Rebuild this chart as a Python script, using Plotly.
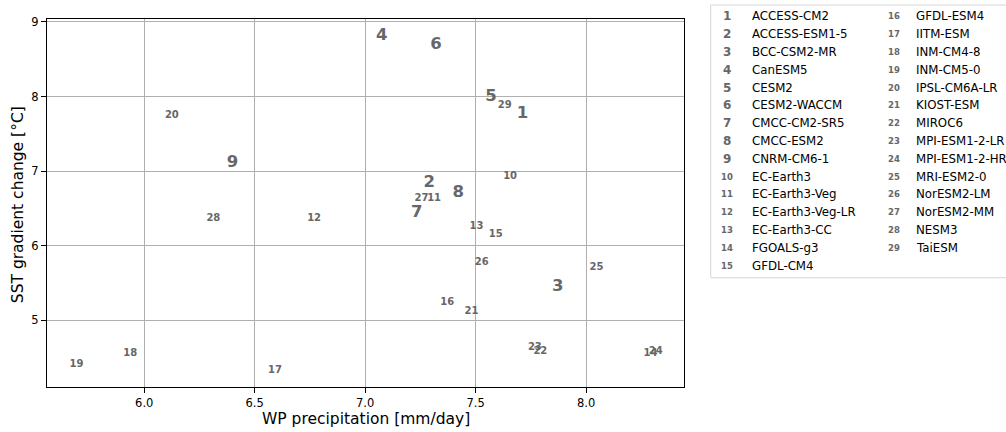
import plotly.graph_objects as go

# CMIP6 models: WP precipitation vs. SST gradient change
model_ids = list(range(1, 30))
model_names = [
    "ACCESS-CM2", "ACCESS-ESM1-5", "BCC-CSM2-MR", "CanESM5", "CESM2",
    "CESM2-WACCM", "CMCC-CM2-SR5", "CMCC-ESM2", "CNRM-CM6-1", "EC-Earth3",
    "EC-Earth3-Veg", "EC-Earth3-Veg-LR", "EC-Earth3-CC", "FGOALS-g3", "GFDL-CM4",
    "GFDL-ESM4", "IITM-ESM", "INM-CM4-8", "INM-CM5-0", "IPSL-CM6A-LR",
    "KIOST-ESM", "MIROC6", "MPI-ESM1-2-LR", "MPI-ESM1-2-HR", "MRI-ESM2-0",
    "NorESM2-LM", "NorESM2-MM", "NESM3", "TaiESM",
]
wp_precip = [
    7.712, 7.290, 7.872, 7.075, 7.569, 7.320, 7.233, 7.421, 6.399, 7.656,
    7.312, 6.769, 7.504, 8.291, 7.591, 7.371, 6.592, 5.937, 5.693, 6.125,
    7.481, 7.793, 7.768, 8.315, 8.047, 7.528, 7.255, 6.313, 7.632,
]
sst_gradient = [
    7.768, 6.849, 5.443, 8.813, 7.992, 8.692, 6.443, 6.715, 7.108, 6.929,
    6.640, 6.359, 6.252, 4.556, 6.145, 5.234, 4.324, 4.556, 4.404, 7.751,
    5.114, 4.578, 4.640, 4.578, 5.707, 5.778, 6.627, 6.359, 7.876,
]
x_ticks = [6.0, 6.5, 7.0, 7.5, 8.0]
y_ticks = [5, 6, 7, 8, 9]

W, H = 1006, 432
L, R, T, B = 46.7, 684.3, 19, 387.3
LABEL_COLOR = "#676767"
FONT = "DejaVu Sans"

fig = go.Figure()

big = [i for i in model_ids if i < 10]
small = [i for i in model_ids if i >= 10]
for ids, size in ((big, 16.5), (small, 10)):
    fig.add_trace(go.Scatter(
        x=[wp_precip[i - 1] for i in ids],
        y=[sst_gradient[i - 1] for i in ids],
        text=[str(i) for i in ids],
        mode="text",
        textposition="middle center",
        textfont=dict(family=FONT, size=size, color=LABEL_COLOR, weight="bold"),
        hovertext=[model_names[i - 1] for i in ids],
        showlegend=False,
    ))


# pixel position on the page -> paper coordinates of the plot area
def px_x(v):
    return (v - L) / (R - L)


def px_y(v):
    return (B - v) / (B - T)


annotations = []
# Legend: two columns of numbered model names inside a framed box
row0, dy = 16.3, 17.83
for k, (mid, name) in enumerate(zip(model_ids, model_names)):
    col, row = (0, k) if k < 15 else (1, k - 15)
    y = row0 + row * dy
    mx, tx = (727, 750) if col == 0 else (894, 915)
    annotations.append(dict(
        x=px_x(mx), y=px_y(y), xref="paper", yref="paper",
        text=str(mid), showarrow=False, xanchor="center", yanchor="middle",
        font=dict(family=FONT, size=12 if mid < 10 else 8.5,
                  color=LABEL_COLOR, weight="bold"),
    ))
    annotations.append(dict(
        x=px_x(tx), y=px_y(y), xref="paper", yref="paper",
        text=name, showarrow=False, xanchor="left", yanchor="middle",
        font=dict(family=FONT, size=11.8, color="#000000"),
    ))

# Axis titles
annotations.append(dict(
    x=px_x((L + R) / 2), y=px_y(419), xref="paper", yref="paper",
    text="WP precipitation [mm/day]", showarrow=False,
    xanchor="center", yanchor="middle",
    font=dict(family=FONT, size=15.5, color="black"),
))
annotations.append(dict(
    x=px_x(18), y=px_y(205), xref="paper", yref="paper",
    text="SST gradient change [°C]", showarrow=False, textangle=-90,
    xanchor="center", yanchor="middle",
    font=dict(family=FONT, size=15.5, color="black"),
))

fig.update_layout(
    width=W, height=H,
    margin=dict(l=L, r=W - R, t=T, b=H - B, autoexpand=False),
    paper_bgcolor="white", plot_bgcolor="white",
    font=dict(family=FONT, color="black"),
    annotations=annotations,
    shapes=[dict(
        type="rect", xref="paper", yref="paper",
        x0=px_x(711), x1=px_x(1012), y0=px_y(278), y1=px_y(5),
        line=dict(color="#d6d6d6", width=1), fillcolor="rgba(255,255,255,0.8)",
        layer="below",
    )],
    xaxis=dict(
        range=[5.56, 8.443], tickvals=x_ticks, ticktext=[f"{v:.1f}" for v in x_ticks],
        showgrid=True, gridcolor="#b0b0b0", gridwidth=0.8, zeroline=False,
        showline=True, linecolor="black", linewidth=1, mirror=True,
        ticks="outside", ticklen=5, tickcolor="black",
        tickfont=dict(size=11.5, family=FONT), automargin=False,
    ),
    yaxis=dict(
        range=[4.106, 9.04], tickvals=y_ticks, ticktext=[str(v) for v in y_ticks],
        showgrid=True, gridcolor="#b0b0b0", gridwidth=0.8, zeroline=False,
        showline=True, linecolor="black", linewidth=1, mirror=True,
        ticks="outside", ticklen=5, tickcolor="black",
        tickfont=dict(size=11.5, family=FONT), automargin=False,
    ),
)

fig.write_html("out.html")
